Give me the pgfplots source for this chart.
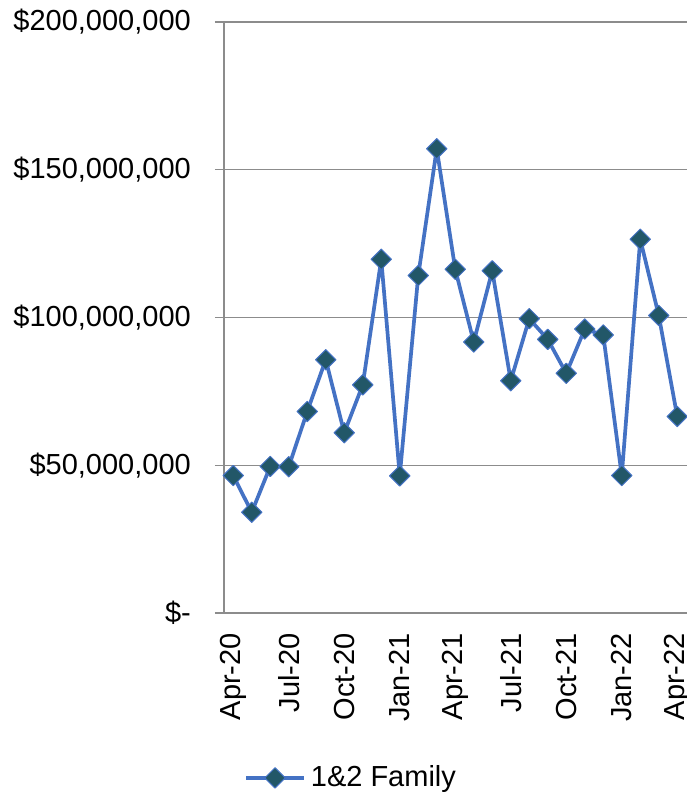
\documentclass[border=0pt]{standalone}
\usepackage{pgfplots}
\pgfplotsset{compat=1.18}
\usepackage{fontspec}
\setmainfont{Liberation Sans}
\usetikzlibrary{calc}
\definecolor{lineblue}{RGB}{68,114,196}
\definecolor{mkfill}{RGB}{34,87,104}
\definecolor{gridgray}{RGB}{140,140,140}
\pgfplotstableread{
idx value
0 46500000
1 34100000
2 49600000
3 49500000
4 68200000
5 85700000
6 61000000
7 77200000
8 119700000
9 46400000
10 114200000
11 157100000
12 116300000
13 91700000
14 115800000
15 78600000
16 99600000
17 92600000
18 81100000
19 96100000
20 94100000
21 46500000
22 126500000
23 100700000
24 66500000
}\datatable
\begin{document}
\fontsize{29}{34}\selectfont
\begin{tikzpicture}
\begin{axis}[name=ax, at={(0,0)}, anchor=south west,
  scale only axis, width=462.5pt, height=591pt,
  xmin=-0.5, xmax=24.5, ymin=0, ymax=200000000,
  axis lines=left,
  axis line style={-, gridgray, line width=1.5pt},
  xtick={0,3,...,24},
  xticklabels={Apr-20,Jul-20,Oct-20,Jan-21,Apr-21,Jul-21,Oct-21,Jan-22,Apr-22},
  major x tick style={draw=none},
  extra x ticks={-0.5,2.5,5.5,8.5,11.5,14.5,17.5,20.5,23.5},
  extra x tick labels={},
  extra x tick style={major tick length=9pt, tick style={gridgray, line width=1.5pt}, grid=none},
  ytick={0,50000000,100000000,150000000,200000000},
  yticklabels={\$-,{\$50,000,000},{\$100,000,000},{\$150,000,000},{\$200,000,000}},
  scaled y ticks=false,
  ymajorgrids, grid style={gridgray, line width=1.5pt},
  tick align=outside, major tick length=9pt,
  tick style={gridgray, line width=1.5pt},
  tick label style={font=\fontsize{29}{34}\selectfont, text=black},
  yticklabel style={anchor=east, inner sep=0pt, xshift=-24pt},
  xticklabel style={yshift=-11pt, rotate=90, anchor=east, inner sep=0pt},
  legend style={at={(0.0432,-0.279)}, anchor=west, draw=none, fill=none,
    inner sep=0pt, column sep=5pt, font=\fontsize{29}{34}\selectfont,
    nodes={inner sep=0pt}},
  legend image code/.code={\draw[mark repeat=2,mark phase=2,#1] plot coordinates {(0pt,0pt) (29pt,0pt) (58pt,0pt)};},
]
\addplot[lineblue, line width=3.7pt, line join=round,
  mark=square*, mark size=7.2pt,
  mark options={rotate=45, fill=mkfill, draw=lineblue, line width=1pt}]
  table[x=idx, y=value] {\datatable};
\addlegendentry{1\&2 Family}
\end{axis}
\pgfresetboundingbox
\path[use as bounding box] ($(ax.south west)+(-224pt,-184pt)$) rectangle ($(ax.south west)+(463pt,613pt)$);
\end{tikzpicture}
\end{document}
